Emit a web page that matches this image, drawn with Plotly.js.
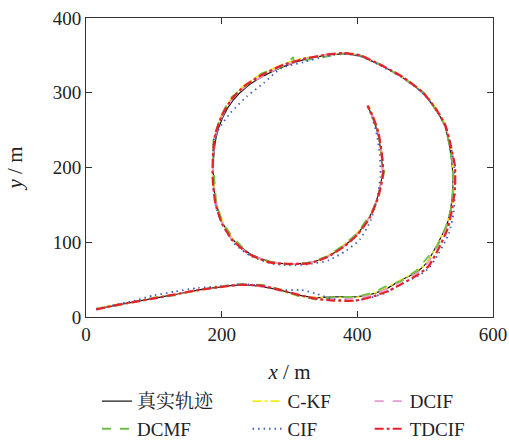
<!DOCTYPE html>
<html>
<head>
<meta charset="utf-8">
<script src="https://cdn.plot.ly/plotly-3.0.1.min.js"></script>
<style>
html,body{margin:0;padding:0;background:#fff;}
#chart{width:509px;height:441px;}
#chart svg text{font-family:'Liberation Serif','Noto Serif CJK SC',serif !important;}
</style>
</head>
<body>
<div id="chart"></div>
<script>
// Series names
const seriesNames = ["真实轨迹", "C-KF", "DCIF", "DCMF", "CIF", "TDCIF"];

// True trajectory
const trueX = [15,40,70,100,130,165,197,227,256,286,315,340,365,398,423,443,462,487,502,516,531,538,541,540,536,529,516,497,467,438,404,379,354,320,291,261,237,217,202,192,188,188,192,202,217,241,271,300,330,354,379,399,418,430,437,435,430,423,416];
const trueY = [11,15,20,25,30,36,40,43,41,36,29,26,27,27,31,38,48,60,72,94,121,147,174,201,228,255,277,299,320,335,349,352,350,344,335,322,308,290,268,241,210,183,152,125,103,85,74,71,73,80,94,110,134,161,192,219,246,266,281];

// C-KF
const ckfX = [15,41,70,101,131,164,198,228,257,287,314,341,366,397,424,444,463,486,503,517,530,539,542,541,537,530,517,498,468,437,403,380,355,319,290,259,235,215,200,190,187,188,193,203,218,240,270,301,331,355,378,398,419,431,438,436,431,424,417];
const ckfY = [11,16,20,26,30,35,41,43,42,35,28,26,26,26,32,40,49,61,73,95,120,148,175,200,229,256,278,300,320,336,350,353,350,346,338,325,311,293,270,242,211,182,151,124,102,84,73,71,72,81,95,111,135,162,193,218,247,267,282];

// DCIF
const dcifX = [15,40,71,100,129,165,196,228,256,287,316,341,364,397,424,444,463,488,503,517,532,539,542,541,537,529,516,496,466,437,404,378,353,321,292,262,236,216,201,191,187,187,192,201,216,241,272,301,330,355,380,400,419,430,437,436,431,423,416];
const dcifY = [10,15,21,25,29,36,40,44,41,35,28,25,25,25,30,38,47,59,71,93,121,148,174,201,228,255,277,300,320,336,350,353,351,345,336,323,309,292,269,242,210,182,152,125,102,84,74,71,73,80,95,111,135,161,192,219,246,267,281];

// DCMF
const dcmfX = [15,39,71,100,131,152,198,228,260,287,314,341,366,398,425,444,464,487,502,518,531,539,541,541,536,530,515,498,466,438,404,386,352,322,307,305,291,259,238,213,200,188,187,189,192,202,219,240,272,300,331,355,378,400,421,431,440,436,431,423,415];
const dcmfY = [11,14,20,26,29,34,41,44,43,37,28,23,27,27,33,42,48,62,78,95,122,147,175,200,228,256,278,300,321,336,350,353,348,343,341,347,336,326,311,293,271,240,210,183,151,125,104,84,74,70,73,81,95,112,140,162,195,218,246,266,282];

// CIF
const cifX = [15,42,72,100,131,165,198,229,258,287,318,340,364,396,420,443,464,490,506,520,535,542,544,543,538,530,517,497,467,437,404,379,354,321,288,262,237,213,198,189,187,187,191,202,218,242,272,300,332,358,384,404,420,429,434,433,428,422,416];
const cifY = [11,16,22,29,34,39,41,44,42,36,36,31,24,22,26,33,44,55,66,85,112,140,170,200,228,255,277,299,320,335,349,352,349,341,333,313,295,273,255,240,210,182,150,122,99,82,72,69,71,76,89,104,130,158,188,218,247,266,281];

// TDCIF
const tdX = [15,40,70,101,130,165,197,228,257,287,316,342,366,398,425,446,465,490,505,519,533,540,544,544,538,530,516,497,467,437,404,379,354,320,290,260,235,215,200,190,187,187,191,201,217,241,271,301,331,355,380,400,419,431,438,436,431,423,415];
const tdY = [10,15,20,25,30,36,40,43,42,36,29,24,22,22,28,35,44,57,68,90,118,146,174,201,228,256,278,300,321,336,350,353,351,345,337,324,310,292,269,242,211,182,151,124,102,84,73,71,72,80,94,110,134,161,192,219,247,268,283];

const FONT = "Liberation Serif, Noto Serif CJK SC, serif";

function tr(x, y, name, color, dash, width, legend, shape) {
  return {x: x, y: y, name: name, type: 'scatter', mode: 'lines',
    line: {color: color, dash: dash, width: width, shape: shape || 'spline', smoothing: 0.6},
    legend: legend};
}

const data = [
  tr(trueX, trueY, seriesNames[0], '#1a1a1a', 'solid', 1.2, 'legend'),
  tr(ckfX, ckfY, seriesNames[1], '#f2ee1a', 'dashdot', 1.8, 'legend2'),
  tr(dcifX, dcifY, seriesNames[2], '#e59ad2', 'dash', 1.8, 'legend3'),
  tr(dcmfX, dcmfY, seriesNames[3], '#6cbf45', 'dash', 1.8, 'legend', 'linear'),
  tr(cifX, cifY, seriesNames[4], '#3c5cc4', '1.5px,4px', 1.8, 'legend2'),
  tr(tdX, tdY, seriesNames[5], '#e8202a', 'dashdot', 2.2, 'legend3')
];

const axisCommon = {
  showgrid: false, zeroline: false, showline: true, linecolor: '#333', linewidth: 1,
  mirror: 'ticks', ticks: 'inside', ticklen: 6, tickcolor: '#333', automargin: false,
  tickfont: {family: FONT, size: 19, color: '#222'}
};

const legendCommon = {
  orientation: 'v', xanchor: 'left', yanchor: 'top', y: -0.218,
  bgcolor: 'rgba(0,0,0,0)', font: {family: FONT, size: 19, color: '#222'},
  tracegroupgap: 0, itemclick: false
};

const layout = {
  width: 509, height: 441,
  margin: {l: 86, r: 16, t: 18, b: 124, autoexpand: false},
  paper_bgcolor: '#fff', plot_bgcolor: '#fff',
  font: {family: FONT, color: '#222'},
  showlegend: true,
  xaxis: Object.assign({}, axisCommon, {range: [0, 600], dtick: 200,
    title: {text: '<i>x</i> / m', font: {family: FONT, size: 21, color: '#222'}, standoff: 20}}),
  yaxis: Object.assign({}, axisCommon, {range: [0, 400], dtick: 100,
    title: {text: '<i>y</i> / m', font: {family: FONT, size: 21, color: '#222'}, standoff: 24}}),
  legend: Object.assign({}, legendCommon, {x: 0.027}),
  legend2: Object.assign({}, legendCommon, {x: 0.397}),
  legend3: Object.assign({}, legendCommon, {x: 0.697})
};

Plotly.newPlot('chart', data, layout, {staticPlot: true, displayModeBar: false});
</script>
</body>
</html>
